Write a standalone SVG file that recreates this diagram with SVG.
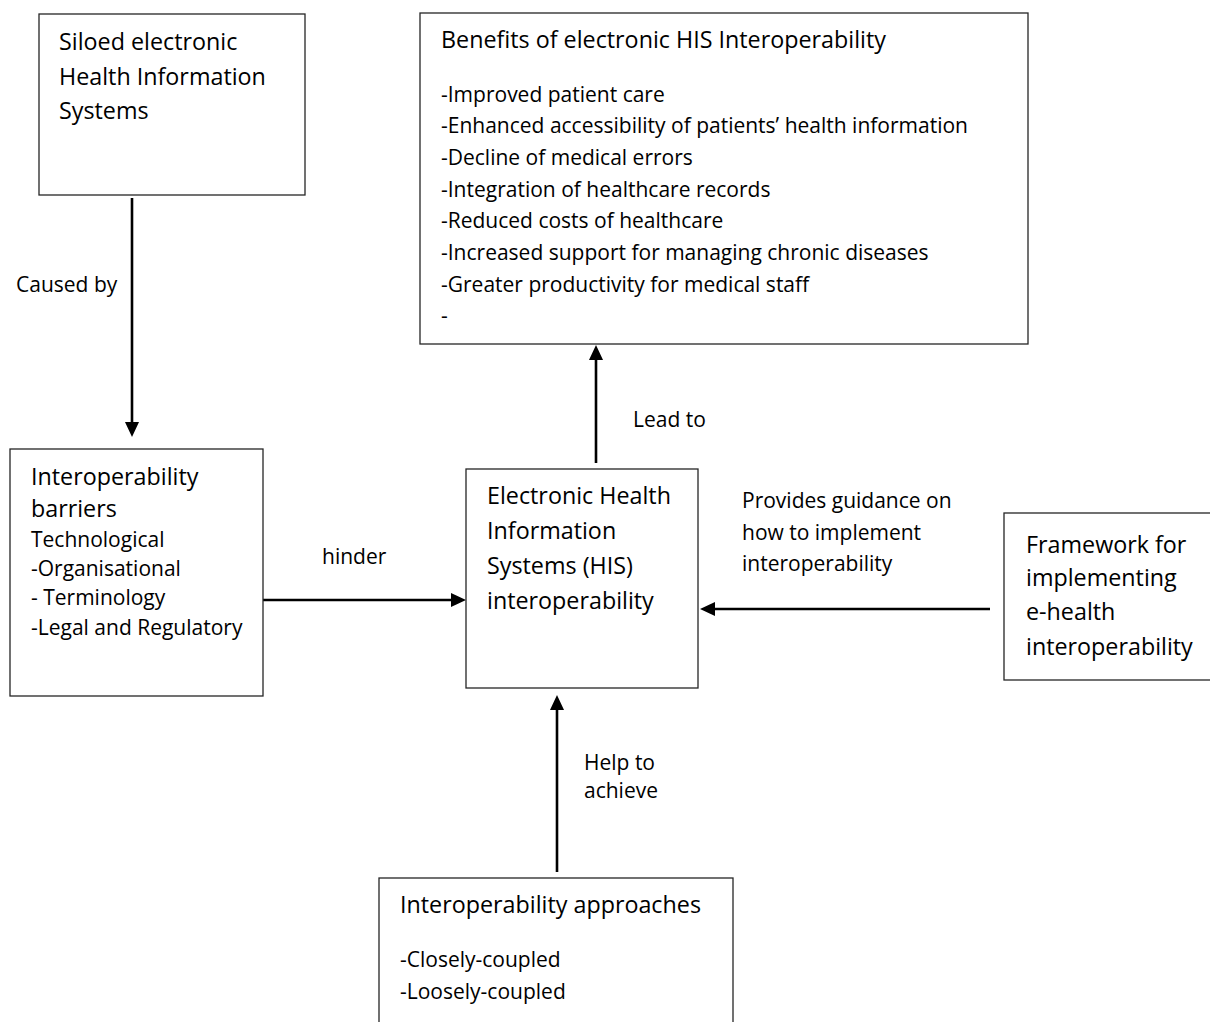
<svg xmlns="http://www.w3.org/2000/svg" width="1210" height="1022" viewBox="0 0 1210 1022">
<style>
.box{fill:#fff;stroke:#262626;stroke-width:1.3}
.t{font-family:"Open Sans","Liberation Sans",sans-serif;font-size:23.3px;fill:#000}
.s{font-family:"Open Sans","Liberation Sans",sans-serif;font-size:21px;fill:#000}
.c{stroke:#000;stroke-width:2.6;fill:none;marker-end:url(#ah)}
</style>
<defs>
<marker id="ah" markerUnits="userSpaceOnUse" markerWidth="16" markerHeight="15" viewBox="0 0 16 15" refX="3" refY="7" orient="auto">
<path d="M0,0 L15,7 L0,14 z" fill="#000"/>
</marker>
</defs>
<rect width="1210" height="1022" fill="#fff"/>
<g id="connectors">
<line class="c" x1="132" y1="198" x2="132" y2="425"/>
<line class="c" x1="263" y1="600" x2="454" y2="600"/>
<line class="c" x1="596" y1="463" x2="596" y2="357"/>
<line class="c" x1="990" y1="609" x2="712" y2="609"/>
<line class="c" x1="557" y1="872" x2="557" y2="707"/>
<text class="s" x="16" y="292">Caused by</text>
<text class="s" x="322" y="564">hinder</text>
<text class="s" x="633" y="427">Lead to</text>
<text class="s" x="742" y="508">Provides guidance on</text>
<text class="s" x="742" y="540">how to implement</text>
<text class="s" x="742" y="571">interoperability</text>
<text class="s" x="584" y="770">Help to</text>
<text class="s" x="584" y="798">achieve</text>
</g>
<g id="siloed">
<rect class="box" x="39" y="14" width="266" height="181"/>
<text class="t" x="59" y="50">Siloed electronic</text>
<text class="t" x="59" y="85">Health Information</text>
<text class="t" x="59" y="119">Systems</text>
</g>
<g id="barriers">
<rect class="box" x="10" y="449" width="253" height="247"/>
<text class="t" x="31" y="485">Interoperability</text>
<text class="t" x="31" y="517">barriers</text>
<text class="s" x="31" y="547">Technological</text>
<text class="s" x="31" y="576">-Organisational</text>
<text class="s" x="31" y="605">- Terminology</text>
<text class="s" x="31" y="635">-Legal and Regulatory</text>
</g>
<g id="benefits">
<rect class="box" x="420" y="13" width="608" height="331"/>
<text class="t" x="441" y="48">Benefits of electronic HIS Interoperability</text>
<text class="s" x="441" y="102">-Improved patient care</text>
<text class="s" x="441" y="133">-Enhanced accessibility of patients’ health information</text>
<text class="s" x="441" y="165">-Decline of medical errors</text>
<text class="s" x="441" y="197">-Integration of healthcare records</text>
<text class="s" x="441" y="228">-Reduced costs of healthcare</text>
<text class="s" x="441" y="260">-Increased support for managing chronic diseases</text>
<text class="s" x="441" y="292">-Greater productivity for medical staff</text>
<text class="s" x="441" y="323">-</text>
</g>
<g id="his">
<rect class="box" x="466" y="469" width="232" height="219"/>
<text class="t" x="487" y="504">Electronic Health</text>
<text class="t" x="487" y="539">Information</text>
<text class="t" x="487" y="574">Systems (HIS)</text>
<text class="t" x="487" y="609">interoperability</text>
</g>
<g id="framework">
<rect class="box" x="1004" y="513" width="212" height="167"/>
<text class="t" x="1026" y="553">Framework for</text>
<text class="t" x="1026" y="586">implementing</text>
<text class="t" x="1026" y="620">e-health</text>
<text class="t" x="1026" y="655">interoperability</text>
</g>
<g id="approaches">
<rect class="box" x="379" y="878" width="354" height="160"/>
<text class="t" x="400" y="913">Interoperability approaches</text>
<text class="s" x="400" y="967">-Closely-coupled</text>
<text class="s" x="400" y="999">-Loosely-coupled</text>
</g>
</svg>
